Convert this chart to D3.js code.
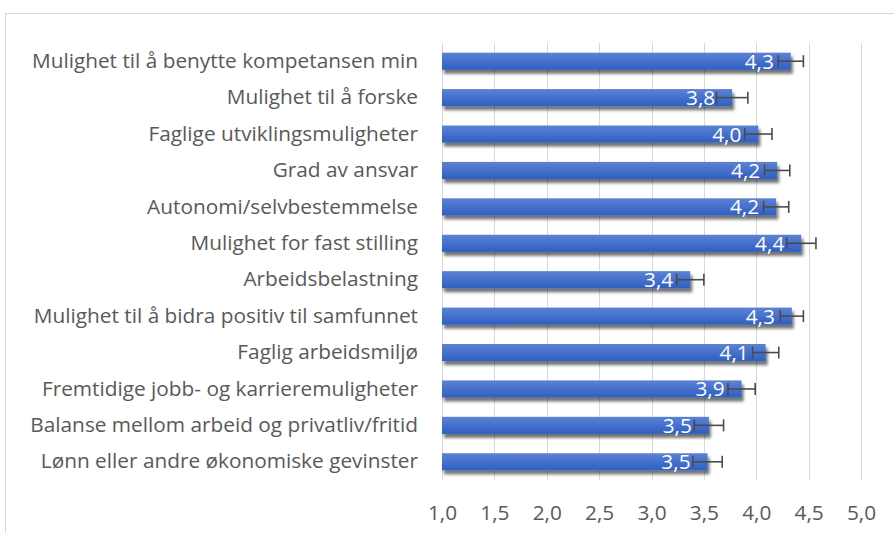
<!DOCTYPE html>
<html>
<head>
<meta charset="utf-8">
<script src="https://cdn.jsdelivr.net/npm/d3@7"></script>
<style>
  body { margin: 0; background: #fff; }
  svg text { font-family: "Open Sans", sans-serif; }
</style>
</head>
<body>
<svg id="chart" width="894" height="533"></svg>
<script>
const categories = [
    "Mulighet til å benytte kompetansen min",
    "Mulighet til å forske",
    "Faglige utviklingsmuligheter",
    "Grad av ansvar",
    "Autonomi/selvbestemmelse",
    "Mulighet for fast stilling",
    "Arbeidsbelastning",
    "Mulighet til å bidra positiv til samfunnet",
    "Faglig arbeidsmiljø",
    "Fremtidige jobb- og karrieremuligheter ",
    "Balanse mellom arbeid og privatliv/fritid",
    "Lønn eller andre økonomiske gevinster"
];
const values = [4.33, 3.77, 4.02, 4.20, 4.19, 4.43, 3.37, 4.34, 4.09, 3.86, 3.548, 3.535];
const errors = [0.12, 0.15, 0.13, 0.12, 0.12, 0.14, 0.13, 0.11, 0.125, 0.13, 0.14, 0.14];
const ticks = [1.0, 1.5, 2.0, 2.5, 3.0, 3.5, 4.0, 4.5, 5.0];

const svg = d3.select("#chart");
const fmt = v => v.toFixed(1).replace(".", ",");
const fontSize = 20.8;

const plotLeft = 442, plotRight = 861, plotTop = 43, plotBottom = 480;

// defs: gradient + shadow
const defs = svg.append("defs");
const grad = defs.append("linearGradient")
    .attr("id", "barGrad").attr("x1", 0).attr("y1", 0).attr("x2", 0).attr("y2", 1);
grad.append("stop").attr("offset", "0%").attr("stop-color", "#5c82d4");
grad.append("stop").attr("offset", "100%").attr("stop-color", "#2f5fc2");
const filt = defs.append("filter").attr("id", "shadow")
    .attr("x", "-5%").attr("y", "-50%").attr("width", "110%").attr("height", "200%");
filt.append("feGaussianBlur").attr("in", "SourceAlpha").attr("stdDeviation", 1.5).attr("result", "b");
filt.append("feOffset").attr("in", "b").attr("dx", 2).attr("dy", 4).attr("result", "o");
filt.append("feComponentTransfer").attr("in", "o").attr("result", "s")
    .append("feFuncA").attr("type", "linear").attr("slope", 0.55);
const merge = filt.append("feMerge");
merge.append("feMergeNode").attr("in", "s");
merge.append("feMergeNode").attr("in", "SourceGraphic");

// outer frame
svg.append("rect")
    .attr("x", 5.5).attr("y", 13.5).attr("width", 1000).attr("height", 1000)
    .attr("fill", "none").attr("stroke", "#d9d9d9");

const x = d3.scaleLinear().domain([1, 5]).range([plotLeft, plotRight]);
const y = d3.scaleBand().domain(categories).range([plotTop, plotBottom]).paddingInner(0.53).paddingOuter(0.265);

// gridlines
svg.append("g").selectAll("line").data(ticks).join("line")
    .attr("x1", d => Math.round(x(d)) + 0.5).attr("x2", d => Math.round(x(d)) + 0.5)
    .attr("y1", plotTop).attr("y2", plotBottom)
    .attr("stroke", "#d9d9d9").attr("stroke-width", 1);

// x axis labels
const xAxis = d3.axisBottom(x).tickValues(ticks).tickFormat(fmt).tickSize(0).tickPadding(0);
const gx = svg.append("g").attr("transform", `translate(0,${plotBottom + 25})`).call(xAxis);
gx.select(".domain").remove();
gx.selectAll("text").attr("font-size", fontSize).attr("fill", "#595959")
    .attr("font-family", "Open Sans, sans-serif");

// y axis labels
const yAxis = d3.axisLeft(y).tickSize(0).tickPadding(0);
const gy = svg.append("g").attr("transform", `translate(418,0)`).call(yAxis);
gy.select(".domain").remove();
gy.selectAll("text").attr("font-size", fontSize).attr("fill", "#595959")
    .attr("font-family", "Open Sans, sans-serif");

// bars
svg.append("g").selectAll("rect").data(values).join("rect")
    .attr("x", x(1))
    .attr("y", (d, i) => y(categories[i]))
    .attr("width", d => x(d) - x(1))
    .attr("height", y.bandwidth())
    .attr("fill", "url(#barGrad)")
    .attr("filter", "url(#shadow)");

// value labels
svg.append("g").selectAll("text").data(values).join("text")
    .attr("x", d => x(d) - 17)
    .attr("y", (d, i) => y(categories[i]) + y.bandwidth() / 2)
    .attr("dy", "0.36em")
    .attr("text-anchor", "end")
    .attr("font-size", fontSize)
    .attr("fill", "#ffffff")
    .text(fmt);

// error bars
const eb = svg.append("g").attr("stroke", "#4a4a4a").attr("stroke-width", 1.6).attr("fill", "none");
values.forEach((v, i) => {
    const cy = y(categories[i]) + y.bandwidth() / 2;
    const x0 = x(v - errors[i]), x1 = x(v + errors[i]);
    eb.append("line").attr("x1", x0).attr("x2", x1).attr("y1", cy).attr("y2", cy);
    eb.append("line").attr("x1", x0).attr("x2", x0).attr("y1", cy - 6).attr("y2", cy + 6);
    eb.append("line").attr("x1", x1).attr("x2", x1).attr("y1", cy - 6).attr("y2", cy + 6);
});
</script>
</body>
</html>
